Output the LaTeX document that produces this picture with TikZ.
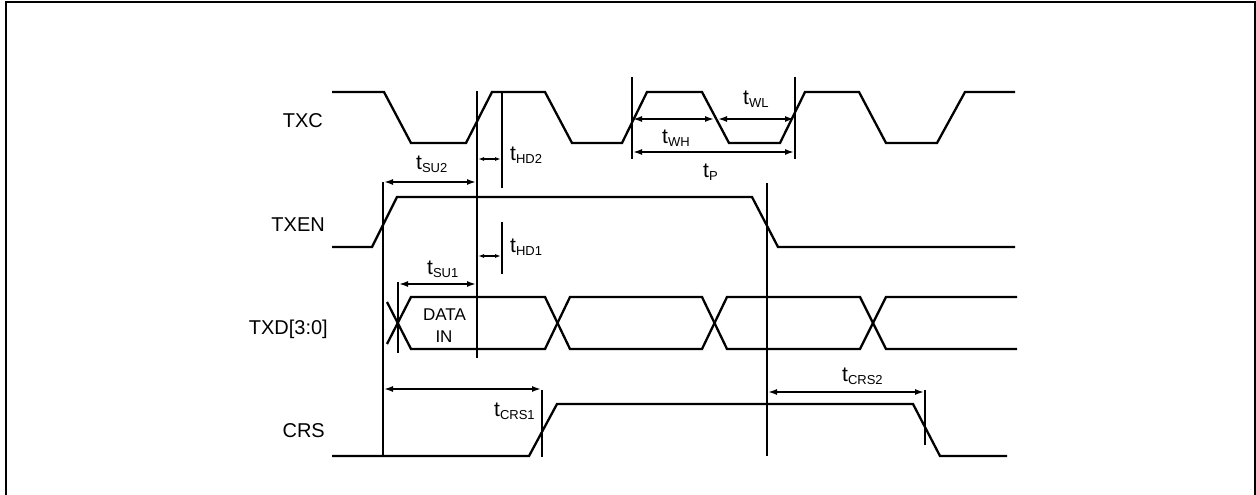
\documentclass[tikz,border=0pt]{standalone}
\usepackage{fontspec}
\setmainfont{Liberation Sans}
\usetikzlibrary{arrows.meta}
\newcommand{\tlab}[1]{t\raisebox{-3pt}{\fontsize{13}{13}\selectfont #1}}
\begin{document}
\begin{tikzpicture}[x=1pt,y=-1pt,
  sig/.style={line width=2.3pt,line join=miter},
  mark line/.style={line width=2.1pt},
  dim/.style={line width=1.6pt,{Latex[length=9pt,width=6pt]}-{Latex[length=9pt,width=6pt]}},
  sdim/.style={line width=1.3pt,{Latex[length=6pt,width=4pt]}-{Latex[length=6pt,width=4pt]}},
  siglab/.style={anchor=base east,inner sep=0pt,font=\fontsize{20}{20}\selectfont},
  tl/.style={anchor=base west,inner sep=0pt,font=\fontsize{21}{21}\selectfont}]
\useasboundingbox (0,0) rectangle (1256,495);
% frame
\draw[line width=2pt] (6,496) -- (6,2) -- (1255,2) -- (1255,496);
% signal names
\node[siglab] (ntxc) at (323,128) {TXC};
\node[siglab] (ntxen) at (325,231) {TXEN};
\node[siglab] (ntxd) at (328,334) {TXD[3:0]};
\node[siglab] (ncrs) at (325,437) {CRS};
% TXC
\draw[sig] (332,92) -- (384,92) -- (411,143) -- (466,143) -- (492,92) -- (545,92) -- (572,143) -- (622,143) -- (647,92) -- (702,92) -- (729,143) -- (780,143) -- (805,92) -- (859,92) -- (886,143) -- (937,143) -- (965,92) -- (1015,92);
% TXEN
\draw[sig] (332,247) -- (372,247) -- (397,197) -- (752,197) -- (778,247) -- (1015,247);
% TXD
\draw[sig] (387,302) -- (411,349) -- (545,349) -- (570,297) -- (702,297) -- (727,349) -- (860,349) -- (886,297) -- (1017,297);
\draw[sig] (387,344) -- (411,297) -- (545,297) -- (570,349) -- (702,349) -- (727,297) -- (860,297) -- (886,349) -- (1017,349);
% CRS
\draw[sig] (332,456) -- (529,456) -- (557,404) -- (913,404) -- (940,456) -- (1007,456);
% vertical reference lines
\draw[mark line] (383,182) -- (383,456);
\draw[mark line] (477,91) -- (477,358);
\draw[mark line] (502,91) -- (502,188);
\draw[mark line] (502,222) -- (502,274);
\draw[mark line] (398,282) -- (398,353);
\draw[mark line] (632,77) -- (632,159);
\draw[mark line] (795,77) -- (795,159);
\draw[mark line] (767,183) -- (767,456);
\draw[mark line] (542,390) -- (542,457);
\draw[mark line] (925,390) -- (925,445);
% dimension arrows
\draw[dim] (384,182) -- (476,182);
\draw[sdim] (478,159) -- (501,159);
\draw[sdim] (478,256) -- (501,256);
\draw[dim] (399,284) -- (476,284);
\draw[dim] (633,119) -- (714,119);
\draw[dim] (718,119) -- (794,119);
\draw[dim] (633,152) -- (794,152);
\draw[dim] (384,389) -- (541,389);
\draw[dim] (768,392) -- (924,392);
% timing labels
\node[tl] (lsu2) at (416,169) {\tlab{SU2}};
\node[tl] (lhd2) at (510,160) {\tlab{HD2}};
\node[tl] (lhd1) at (510,252) {\tlab{HD1}};
\node[tl] (lsu1) at (427,274) {\tlab{SU1}};
\node[tl] (lwl) at (743,104) {\tlab{WL}};
\node[tl] (lwh) at (662,143) {\tlab{WH}};
\node[tl] (lp) at (703,177) {\tlab{P}};
\node[tl] (lcrs1) at (494,416) {\tlab{CRS1}};
\node[tl] (lcrs2) at (842,381) {\tlab{CRS2}};
% data in
\node[anchor=base,inner sep=0pt,font=\fontsize{17}{17}\selectfont] (ldata) at (444.5,320) {DATA};
\node[anchor=base,inner sep=0pt,font=\fontsize{17}{17}\selectfont] (lin) at (444,342) {IN};
\end{tikzpicture}
\end{document}
